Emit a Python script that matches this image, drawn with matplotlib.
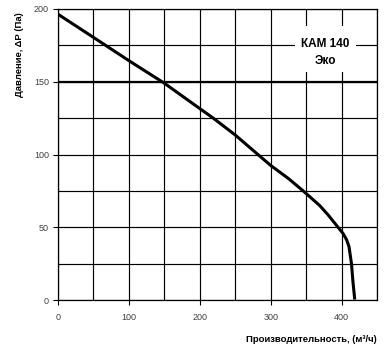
import matplotlib
matplotlib.use("Agg")
import matplotlib.pyplot as plt
from matplotlib.patches import Rectangle

plt.rcParams['font.family'] = ['Liberation Sans', 'DejaVu Sans']

# fan curve
flow = [0, 50, 100, 150, 193, 219, 250, 282, 300, 325, 347, 369, 381,
        395, 402, 407, 410.5, 412.5, 414, 416, 418.6]
pressure = [196.4, 180.5, 164.5, 149, 134, 125, 113.4, 100, 92.5, 83.5, 74.5, 65, 58.5,
            50, 45.8, 41.5, 36.7, 30, 25, 13, 0.3]

x_ticks = [0, 100, 200, 300, 400]
y_ticks = [0, 50, 100, 150, 200]
ref_pressure = 150
model_name = "КАМ 140\nЭко"

fig = plt.figure(figsize=(3.86, 3.53), dpi=100)
ax = fig.add_axes([58 / 386, 1 - 300 / 353, (377 - 58) / 386, (300 - 9) / 353])

ax.set_xlim(0, 450)
ax.set_ylim(0, 200)
ax.set_xticks(x_ticks)
ax.set_yticks(y_ticks)
ax.set_xticks(range(0, 451, 50), minor=True)
ax.set_yticks(range(0, 201, 25), minor=True)
ax.set_axisbelow(True)
ax.grid(which='both', color='black', linewidth=0.85)
ax.tick_params(which='minor', length=0)
ax.tick_params(axis='x', which='major', length=3.5, width=0.8, pad=6,
               labelsize=6.5, labelcolor='#404040')
ax.tick_params(axis='y', which='major', length=3.5, width=0.8, pad=3,
               labelsize=6.5, labelcolor='#404040')
for s in ax.spines.values():
    s.set_linewidth(0.9)

ax.axhline(ref_pressure, color='black', linewidth=1.6, zorder=2)
ax.plot(flow, pressure, color='black', linewidth=2.2, zorder=3,
        solid_capstyle='butt', solid_joinstyle='round')

# white patch behind the model name
ax.add_patch(Rectangle((334, 157), 86, 31, facecolor='white', edgecolor='none',
                       zorder=2))
ax.text(377, 170, model_name, ha='center', va='center', fontsize=8.5,
        fontweight='bold', linespacing=1.5, zorder=4)

fig.text(377 / 386, 1 - 340 / 353, "Производительность, (м³/ч)", ha='right',
         va='center', fontsize=6.8, fontweight='bold')
fig.text(20 / 386, 1 - 12 / 353, "Давление, ΔР (Па)", rotation=90, ha='center',
         va='top', fontsize=6.8, fontweight='bold')

fig.savefig("out.png", dpi=100)
